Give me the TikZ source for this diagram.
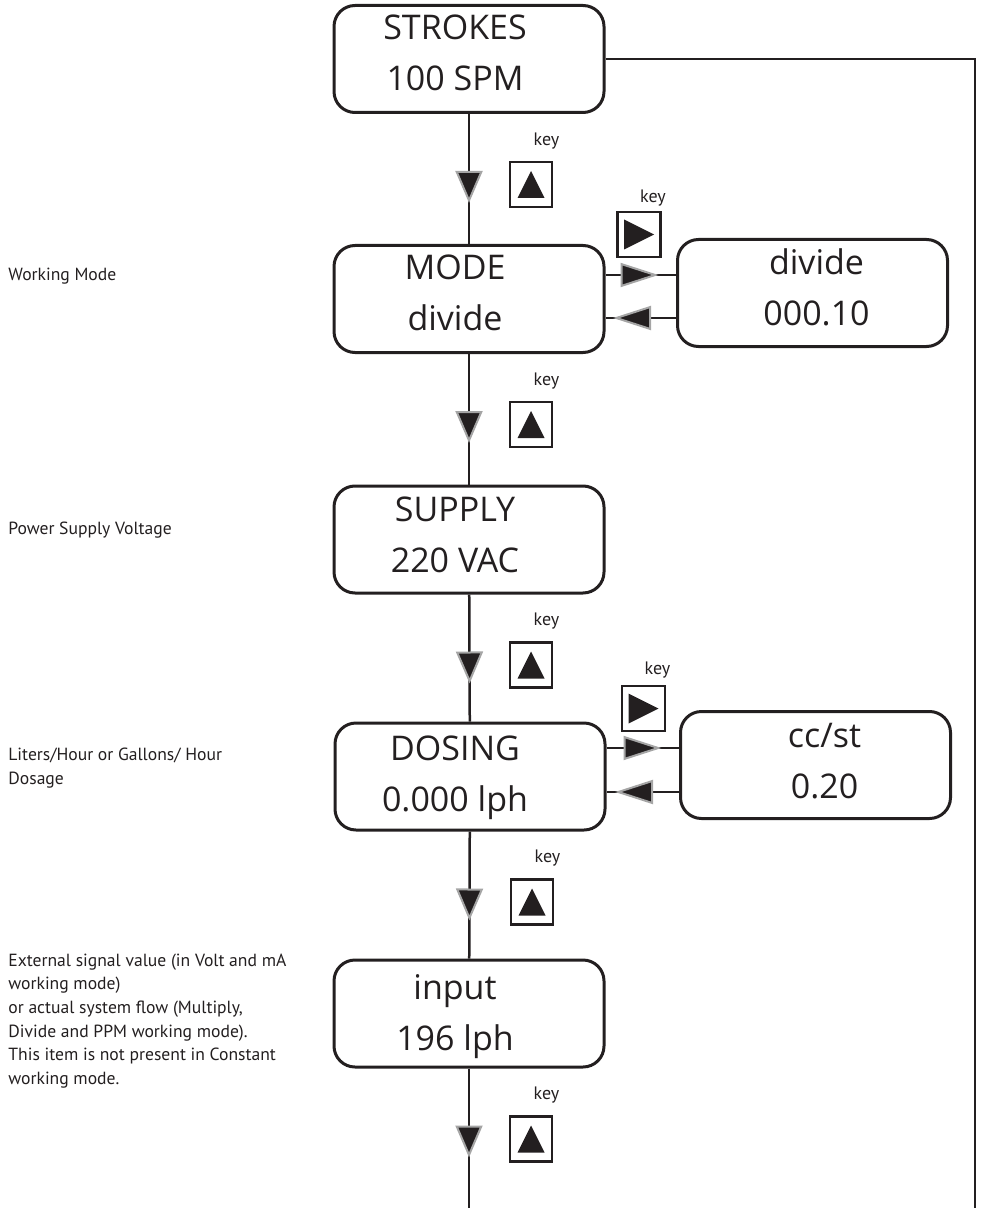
\documentclass[tikz,border=0pt]{standalone}
\usepackage{fontspec}
\setmainfont{Open Sans}
\newfontfamily\notefont{PT Sans}
\usetikzlibrary{arrows.meta, positioning, decorations.markings}
\definecolor{DispInk}{RGB}{35,31,32}
\definecolor{DispGray}{RGB}{165,165,165}

\tikzset{
  vhead/.tip={Triangle[length=16pt, width=13.5pt, line width=1pt, fill=DispInk, color=DispGray]},
  hhead/.tip={Triangle[length=19pt, width=12pt, line width=1pt, fill=DispInk, color=DispGray]},
  headat/.style 2 args={postaction={decorate,
      decoration={markings, mark=at position #1 with {\arrow{#2}}}}}
}

\begin{document}
\begin{tikzpicture}[x=0.5pt, y=-0.5pt,
    disp/.style={rectangle, rounded corners=10.5pt, draw=DispInk, line width=1.5pt,
                 minimum width=135pt, minimum height=53.5pt},
    disptxt/.style={align=center, font=\fontsize{17}{25.5}\selectfont,
                    text=DispInk, inner sep=0pt},
    conn/.style={DispInk, line width=1.25pt},
    keyup/.style={rectangle, draw=DispInk, line width=1.3pt, inner sep=0pt,
                  minimum width=21pt, minimum height=22.5pt,
                  path picture={\fill[DispInk] ([yshift=6.75pt]path picture bounding box.center)
                    -- ++(-6.75pt,-13.5pt) -- ++(13.5pt,0pt) -- cycle;}},
    keyright/.style={rectangle, draw=DispInk, line width=1.3pt, inner sep=0pt,
                  minimum width=21.5pt, minimum height=22.5pt,
                  path picture={\fill[DispInk] ([xshift=7.5pt]path picture bounding box.center)
                    -- ++(-15pt,7.5pt) -- ++(0pt,-15pt) -- cycle;}},
    keylbl/.style={font=\notefont\fontsize{9}{10}\selectfont, text=DispInk, inner sep=0pt},
    note/.style={anchor=west, align=left, inner sep=0pt, text=DispInk,
                 font=\notefont\fontsize{8.8}{11.85}\selectfont}
  ]
  \useasboundingbox (0,0) rectangle (980,1208);

  % Display screens (main column)
  \node[disp] (strokes) at (469,59) {};
  \node[disptxt] (strokes-t) at ([xshift=-7pt, yshift=3pt]strokes.center) {STROKES\\100 SPM};
  \node[disp] (mode) at (469,299) {};
  \node[disptxt] (mode-t) at ([xshift=-7pt, yshift=3pt]mode.center) {MODE\\divide};
  \node[disp] (supply) at (469,539.5) {};
  \node[disptxt] (supply-t) at ([xshift=-7pt, yshift=2.5pt]supply.center) {SUPPLY\\220 VAC};
  \node[disp] (dosing) at (470,776.5) {};
  \node[disptxt] (dosing-t) at ([xshift=-7.5pt, yshift=-0.5pt]dosing.center) {DOSING\\0.000 lph};
  \node[disp] (input) at (469,1013.5) {};
  \node[disptxt] (input-t) at ([xshift=-7pt, yshift=-1.5pt]input.center) {input\\196 lph};

  % Sub screens
  \node[disp] (divide) at (812.5,293) {};
  \node[disptxt] (divide-t) at ([xshift=2pt, yshift=3pt]divide.center) {divide\\000.10};
  \node[disp] (ccst) at (815.5,765) {};
  \node[disptxt] (ccst-t) at ([xshift=4.5pt, yshift=2pt]ccst.center) {cc/st\\0.20};

  % Free ends
  \coordinate (tail) at (469,1208);
  \coordinate (back) at (975,1208);

  % Up keys under each screen
  \foreach \b in {strokes, mode, supply, dosing, input} {
    \node[keyup] (\b-key) at ([xshift=31pt, yshift=-35.25pt]\b.south) {};
    \node[keylbl] (\b-keylbl) at ([xshift=7.75pt, yshift=21.75pt]\b-key.center) {key};
  }

  % Right keys
  \node[keyright] (mode-rkey) at (639,234.5) {};
  \node[keylbl] (mode-rkeylbl) at ([xshift=7pt, yshift=18.25pt]mode-rkey.center) {key};
  \node[keyright] (dosing-rkey) at (643.5,708.5) {};
  \node[keylbl] (dosing-rkeylbl) at ([xshift=7pt, yshift=19.25pt]dosing-rkey.center) {key};

  % Main flow
  \draw[conn, headat={44.5pt}{vhead}] (strokes) -- (mode);
  \draw[conn, headat={44.5pt}{vhead}] (mode) -- (supply);
  \draw[conn, headat={44.5pt}{vhead}] (supply) -- (dosing);
  \draw[conn, headat={44.5pt}{vhead}] (dosing) -- (input);
  \draw[conn, headat={44.5pt}{vhead}] (input) -- (tail);

  % Side branches
  \draw[conn, headat={26.5pt}{hhead}] ([yshift=12pt]mode.east) -- ([yshift=12pt]mode.east -| divide.west);
  \draw[conn, headat={31.5pt}{hhead}] ([yshift=-9.5pt]mode.east -| divide.west) -- ([yshift=-9.5pt]mode.east);
  \draw[conn, headat={27.5pt}{hhead}] ([yshift=14.25pt]dosing.east) -- ([yshift=14.25pt]dosing.east -| ccst.west);
  \draw[conn, headat={32pt}{hhead}] ([yshift=-7.75pt]dosing.east -| ccst.west) -- ([yshift=-7.75pt]dosing.east);

  % Return path
  \draw[conn, line width=1.4pt] (strokes.east) -| (back);

  % Notes
  \node[note] (n-mode) at (8,276) {Working Mode};
  \node[note] (n-supply) at (8,530) {Power Supply Voltage};
  \node[note] (n-dosing) at (8,768) {Liters/Hour or Gallons/ Hour\\Dosage};
  \node[note] (n-input) at (8,1021) {External signal value (in Volt and mA\\working mode)\\or actual system flow (Multiply,\\Divide and PPM working mode).\\This item is not present in Constant\\working mode.};
\end{tikzpicture}
\end{document}
